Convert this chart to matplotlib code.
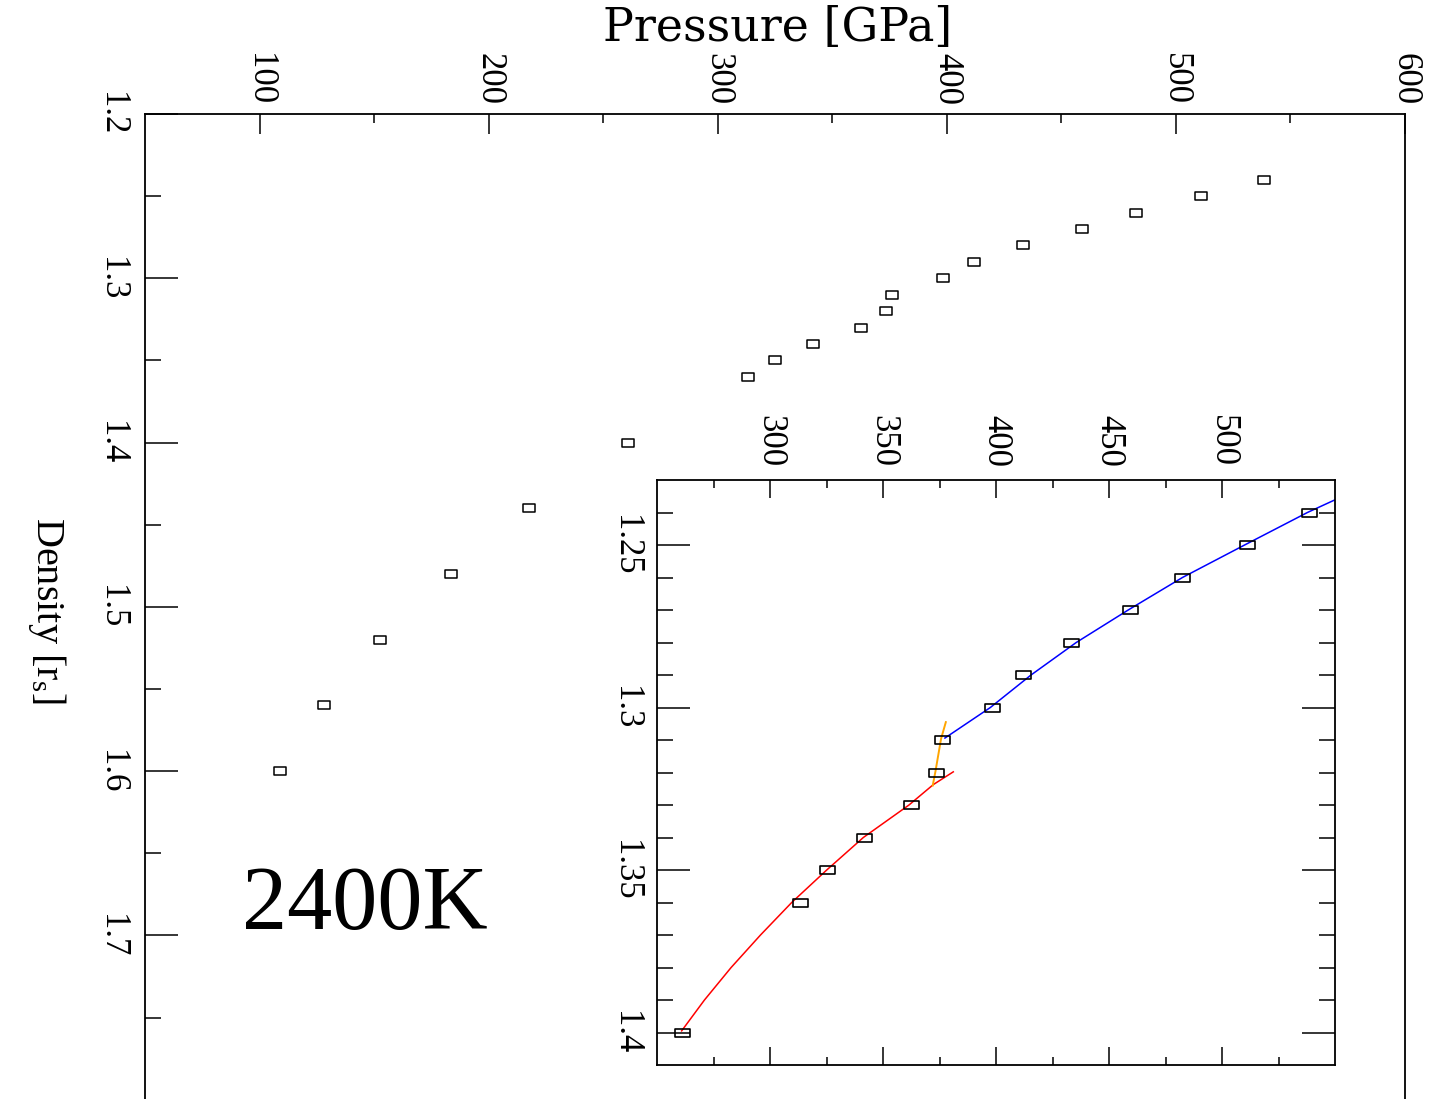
import glob
import numpy as np
import matplotlib
matplotlib.use('Agg')
import matplotlib.pyplot as plt
from matplotlib import font_manager as fm
from matplotlib.path import Path

for f in glob.glob('/usr/share/fonts/**/Liberation*.ttf', recursive=True):
    fm.fontManager.addfont(f)

plt.rcParams['font.family'] = ['Liberation Serif', 'DejaVu Serif']
plt.rcParams['mathtext.fontset'] = 'custom'
plt.rcParams['mathtext.rm'] = 'Liberation Serif'
plt.rcParams['mathtext.it'] = 'Liberation Serif:italic'

# simulated points (pressure in GPa vs r_s)
pressure = [538.3, 511.1, 482.5, 459.2, 433.1, 412.0, 398.2, 376.0, 373.3,
            362.6, 341.7, 325.2, 313.4, 260.9, 217.5, 183.5, 152.5, 128.1, 108.9]
density = [1.24, 1.25, 1.26, 1.27, 1.28, 1.29, 1.30, 1.31, 1.32,
           1.33, 1.34, 1.35, 1.36, 1.40, 1.44, 1.48, 1.52, 1.56, 1.60]

# fit curves in the inset
blue_p = [377.4, 397.5, 415.5, 435.5, 458.5, 482.5, 510.0, 537.8, 550.0]
blue_rs = [1.3094, 1.30, 1.29, 1.28, 1.27, 1.26, 1.25, 1.24, 1.2361]
red_p = [260.9, 271.0, 282.8, 295.8, 309.6, 325.1, 341.3, 361.5, 372.3, 381.1]
red_rs = [1.3995, 1.39, 1.38, 1.37, 1.36, 1.35, 1.34, 1.33, 1.3237, 1.3198]
orange_p = [377.8, 375.7, 373.2, 372.0]
orange_rs = [1.3045, 1.3096, 1.3197, 1.324]

main_xticks = [100, 200, 300, 400, 500, 600]
main_xlabels = ['100', '200', '300', '400', '500', '600']
main_yticks = [1.2, 1.3, 1.4, 1.5, 1.6, 1.7]
main_ylabels = ['1.2', '1.3', '1.4', '1.5', '1.6', '1.7']
ins_xticks = [300, 350, 400, 450, 500]
ins_xlabels = ['300', '350', '400', '450', '500']
ins_yticks = [1.25, 1.30, 1.35, 1.40]
ins_ylabels = ['1.25', '1.3', '1.35', '1.4']

W, H = 1430, 1099


def px(l, t, r, b):
    return [l / W, 1 - b / H, (r - l) / W, (b - t) / H]


rect = Path([(-1, -0.58), (1, -0.58), (1, 0.58), (-1, 0.58), (-1, -0.58)],
            [Path.MOVETO, Path.LINETO, Path.LINETO, Path.LINETO, Path.CLOSEPOLY])

fig = plt.figure(figsize=(14.3, 10.99), dpi=100)

# main panel
ax = fig.add_axes(px(145, 114, 1405, 1121))
ax.plot(pressure, density, linestyle='none', marker=rect, markersize=8.8,
        mfc='none', mec='black', mew=1.1)
ax.set_xlim(50, 600)
ax.set_ylim(1.2 + 1007 / 1643, 1.2)
ax.xaxis.tick_top()
ax.set_xticks(main_xticks)
ax.set_xticks([150, 250, 350, 450, 550], minor=True)
ax.set_xticklabels(main_xlabels, rotation=-90, va='bottom', ha='center')
ax.set_yticks(main_yticks)
ax.set_yticks([1.25, 1.35, 1.45, 1.55, 1.65, 1.75], minor=True)
ax.set_yticklabels(main_ylabels, rotation=-90, va='center', ha='right')
ax.tick_params(axis='x', which='major', direction='in', length=14.4, width=1.1,
               pad=6.5, labelsize=25)
ax.tick_params(axis='x', which='minor', direction='in', length=6.5, width=1.1)
ax.tick_params(axis='y', which='major', direction='in', length=23.8, width=1.1,
               pad=12, labelsize=25, left=True, right=False)
ax.tick_params(axis='y', which='minor', direction='in', length=11.5, width=1.1,
               left=True, right=False)
for s in ax.spines.values():
    s.set_linewidth(1.3)

# inset
ax2 = fig.add_axes(px(657, 480, 1335, 1065))
ax2.plot(red_p, red_rs, color='red', lw=1.1)
ax2.plot(orange_p, orange_rs, color='#ffa500', lw=1.4)
ax2.plot(blue_p, blue_rs, color='blue', lw=1.1)
ax2.plot(pressure, density, linestyle='none', marker=rect, markersize=10.8,
         mfc='none', mec='black', mew=1.2)
ax2.set_xlim(250, 550)
ax2.set_ylim(1.41, 1.23)
ax2.set_xticks(ins_xticks)
ax2.set_xticks([275, 325, 375, 425, 475, 525], minor=True)
ax2.set_yticks(ins_yticks)
ax2.set_yticks([1.24, 1.26, 1.27, 1.28, 1.29, 1.31, 1.32, 1.33, 1.34,
                1.36, 1.37, 1.38, 1.39], minor=True)
ax2.tick_params(which='both', direction='in', top=True, bottom=True, left=True,
                right=True, labeltop=True, labelbottom=False, labelleft=True)
ax2.set_xticklabels(ins_xlabels, rotation=-90, va='bottom', ha='center')
ax2.set_yticklabels(ins_ylabels, rotation=-90, va='center', ha='right')
ax2.tick_params(axis='x', which='major', length=13, width=1.1, pad=9.6, labelsize=25)
ax2.tick_params(axis='x', which='minor', length=5.8, width=1.1)
ax2.tick_params(axis='y', which='major', length=23.8, width=1.1, pad=11, labelsize=25)
ax2.tick_params(axis='y', which='minor', length=11.5, width=1.1)
for s in ax2.spines.values():
    s.set_linewidth(1.3)

fig.text(778 / W, 1 - 41 / H, 'Pressure [GPa]', family='DejaVu Serif',
         fontsize=33, ha='center', va='baseline')
fig.text(47 / W, 1 - 610 / H, r'Density [r$_{\mathrm{s}}$]', fontsize=29,
         rotation=-90, ha='center', va='center')
fig.text(242 / W, 1 - 929 / H, '2400K', fontsize=65, ha='left', va='baseline')

fig.savefig('out.png', dpi=100)
